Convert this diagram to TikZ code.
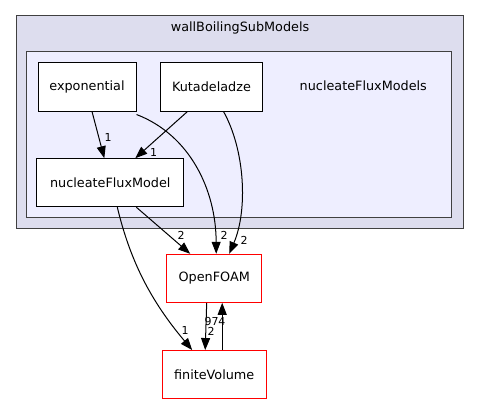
\documentclass[tikz,border=0pt]{standalone}
\usepackage{fontspec}
\setmainfont{DejaVu Sans}
\usetikzlibrary{arrows.meta}
\begin{document}
\begin{tikzpicture}[x=1pt,y=-1pt,
  box/.style={draw=black,fill=white,line width=1pt,minimum height=48pt,inner sep=0pt,font=\fontsize{12.8}{14}\selectfont},
  redbox/.style={box,draw=red},
  edge/.style={draw=black,line width=1pt,-{Triangle[length=12pt,width=9pt]}},
  elabel/.style={inner sep=0pt,font=\fontsize{11}{12}\selectfont},
  clabel/.style={inner sep=0pt,font=\fontsize{12.8}{14}\selectfont}]
\useasboundingbox (0,0) rectangle (479,404);
\fill[white] (0,0) rectangle (479,404);
% clusters
\draw[fill={rgb,255:red,221;green,221;blue,238},draw={rgb,255:red,64;green,64;blue,64},line width=1pt] (16,16) rectangle (463,228);
\node[clabel] (outerlbl) at (240,27.5) {wallBoilingSubModels};
\draw[fill={rgb,255:red,238;green,238;blue,255},draw={rgb,255:red,64;green,64;blue,64},line width=1pt] (26.7,51.7) rectangle (451.7,217.3);
\node[clabel] (innerlbl) at (363.3,86) {nucleateFluxModels};
% nodes
\node[box,minimum width=98pt] (expo) at (87,87) {exponential};
\node[box,minimum width=101.6pt] (kut) at (211.5,87) {Kutadeladze};
\node[box,minimum width=147.3pt] (nfm) at (110.3,182.7) {nucleateFluxModel};
\node[redbox,minimum width=95pt] (ofo) at (214.2,278.3) {OpenFOAM};
\node[redbox,minimum width=103.7pt,minimum height=47.5pt] (fv) at (214.2,374.3) {finiteVolume};
% edges
\draw[edge] ([xshift=5pt]expo.south) -- ([xshift=-6pt]nfm.north);
\node[elabel] (l1) at (108,137) {1};
\draw[edge] ([xshift=-24pt]kut.south) -- ([xshift=25pt]nfm.north);
\node[elabel] (l2) at (153.5,152) {1};
\draw[edge] ([yshift=-3pt]expo.south east) .. controls (190,135) and (216,190) .. ([xshift=2pt]ofo.north);
\node[elabel] (l3) at (224,235) {2};
\draw[edge] ([xshift=12pt]kut.south) .. controls (245,150) and (248,210) .. ([xshift=15pt]ofo.north);
\node[elabel] (l4) at (244,240) {2};
\draw[edge] ([xshift=26pt]nfm.south) -- ([xshift=-24pt]ofo.north);
\node[elabel] (l5) at (181,235) {2};
\draw[edge] ([xshift=7pt]nfm.south) .. controls (130,260) and (150,300) .. ([xshift=-22pt]fv.north);
\node[elabel] (l6) at (185,330) {1};
\draw[edge] ([xshift=-7.5pt]ofo.south) -- ([xshift=-9pt]fv.north);
\node[elabel] (l7) at (211,331) {2};
\draw[edge] ([xshift=8pt]fv.north) -- ([xshift=8pt]ofo.south);
\node[elabel] (l8) at (215,321) {974};
\end{tikzpicture}
\end{document}
